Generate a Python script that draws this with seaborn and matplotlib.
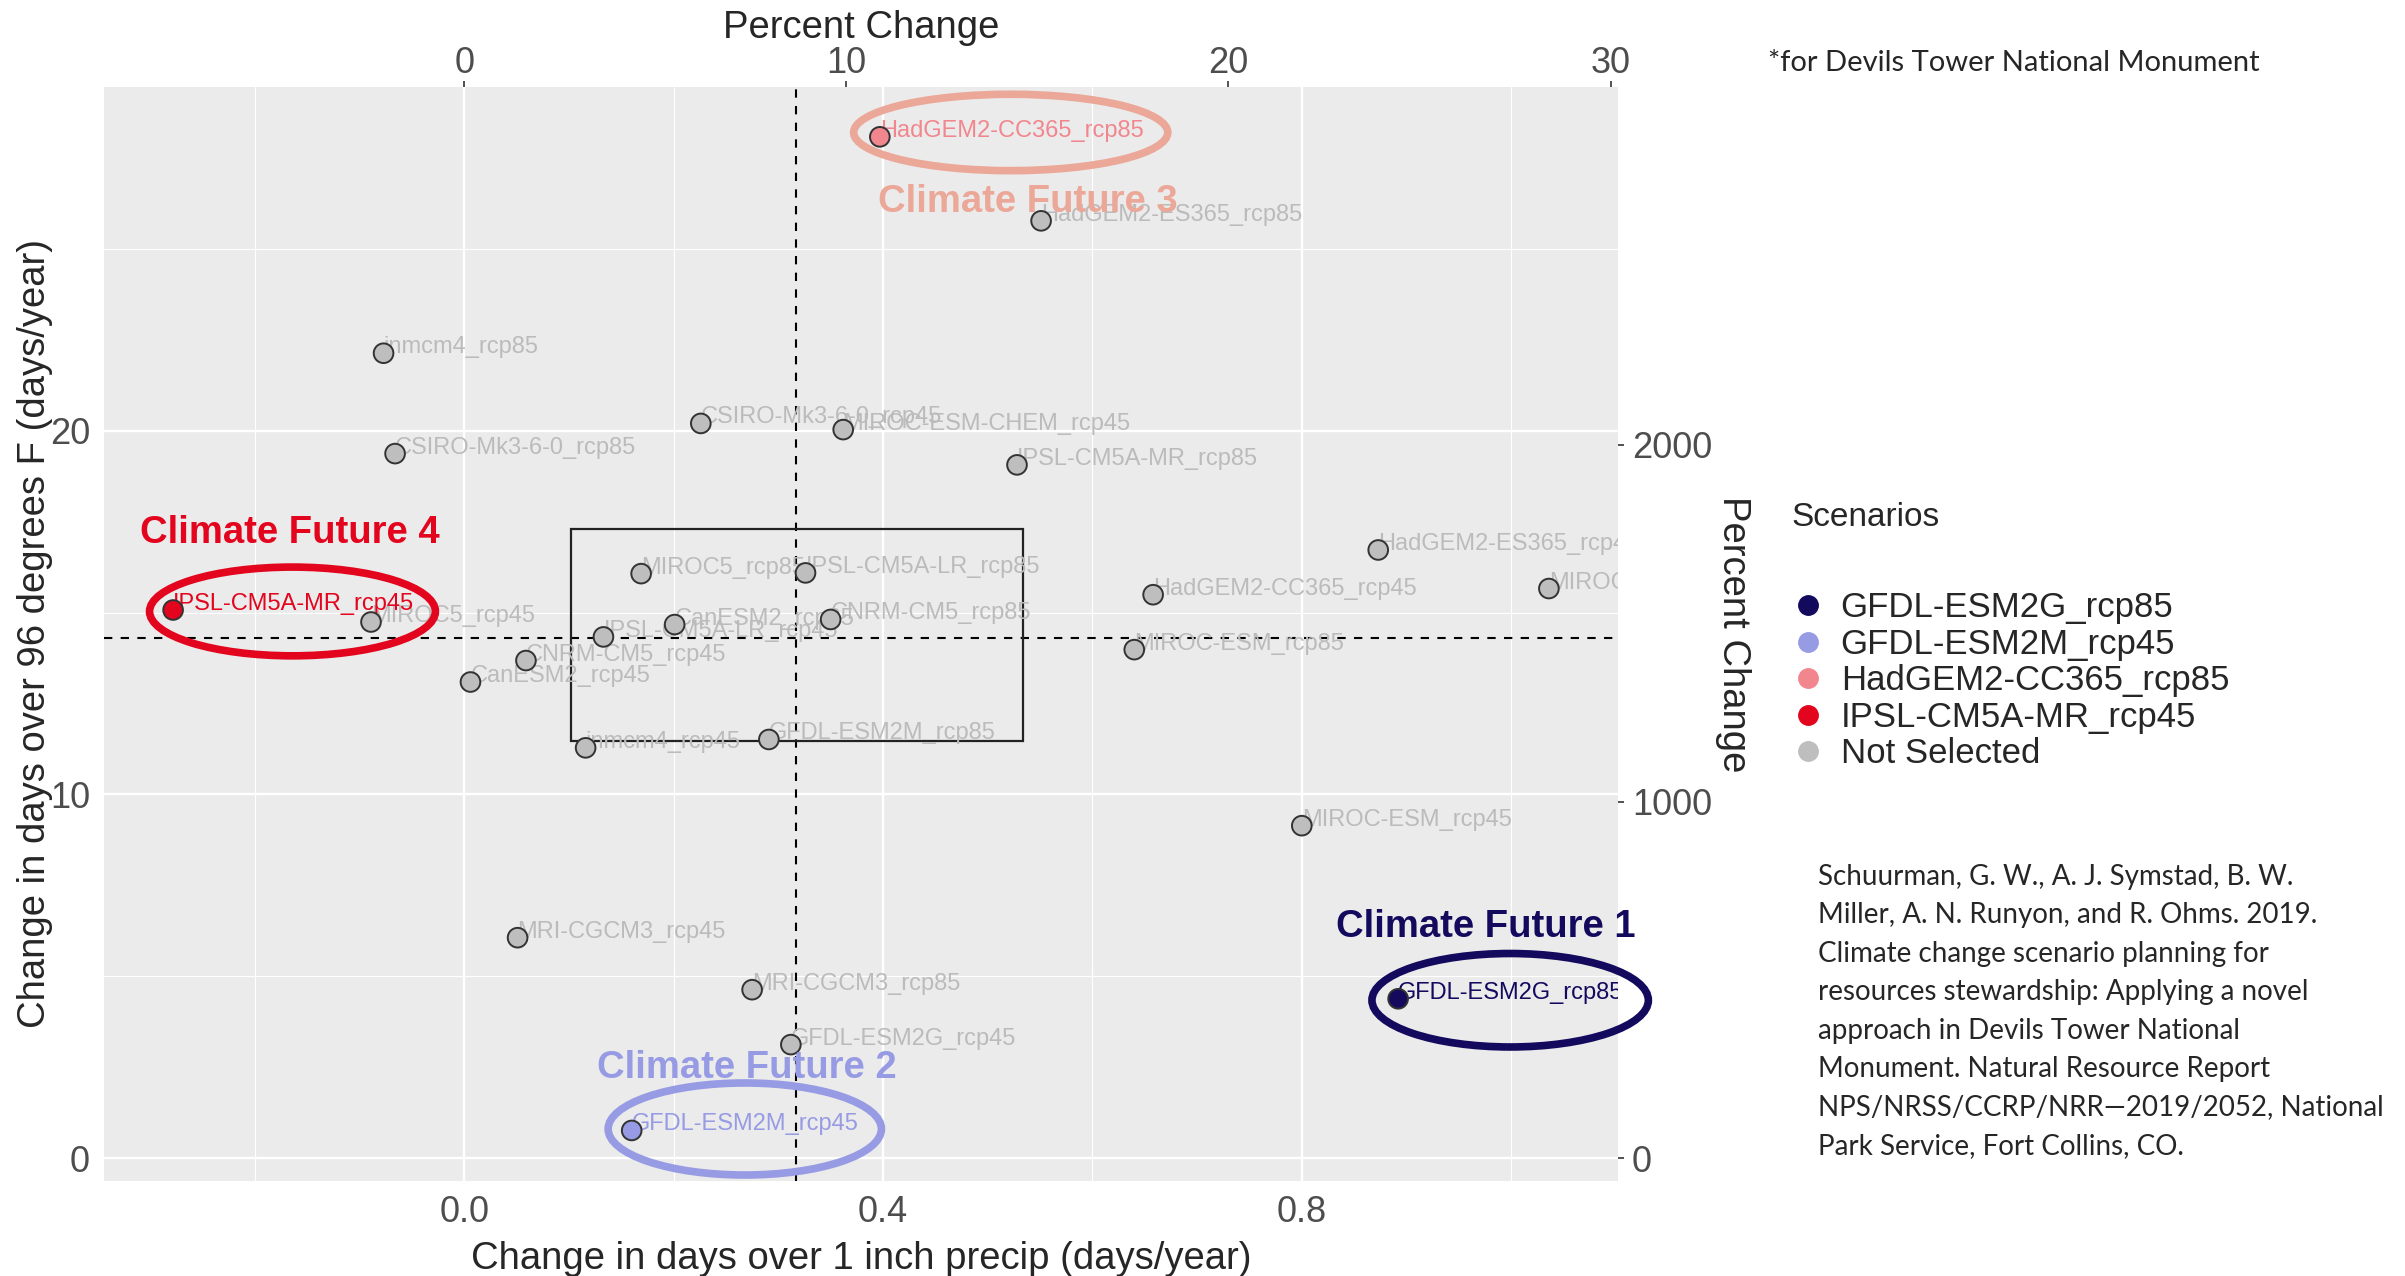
import matplotlib
matplotlib.use("Agg")
import matplotlib.pyplot as plt
from matplotlib.patches import Ellipse, Rectangle
from matplotlib.lines import Line2D
import pandas as pd
import seaborn as sns

# ---- data ----
models = ["HadGEM2-CC365_rcp85", "HadGEM2-ES365_rcp85", "inmcm4_rcp85",
          "CSIRO-Mk3-6-0_rcp45", "MIROC-ESM-CHEM_rcp45", "CSIRO-Mk3-6-0_rcp85",
          "IPSL-CM5A-MR_rcp85", "HadGEM2-ES365_rcp45", "MIROC-ESM-CHEM_rcp85",
          "MIROC5_rcp85", "IPSL-CM5A-LR_rcp85", "HadGEM2-CC365_rcp45",
          "IPSL-CM5A-MR_rcp45", "MIROC5_rcp45", "CanESM2_rcp85",
          "CNRM-CM5_rcp85", "IPSL-CM5A-LR_rcp45", "CNRM-CM5_rcp45",
          "MIROC-ESM_rcp85", "CanESM2_rcp45", "inmcm4_rcp45",
          "GFDL-ESM2M_rcp85", "MIROC-ESM_rcp45", "MRI-CGCM3_rcp45",
          "MRI-CGCM3_rcp85", "GFDL-ESM2G_rcp45", "GFDL-ESM2M_rcp45",
          "GFDL-ESM2G_rcp85"]
precip_days = [0.397, 0.551, -0.077, 0.226, 0.362, -0.066,
               0.528, 0.873, 1.036, 0.169, 0.326, 0.658,
               -0.278, -0.089, 0.201, 0.350, 0.133, 0.059,
               0.640, 0.006, 0.116, 0.291, 0.800, 0.051,
               0.275, 0.312, 0.160, 0.892]
heat_days = [28.08, 25.77, 22.13, 20.20, 20.03, 19.37,
             19.06, 16.72, 15.66, 16.07, 16.09, 15.49,
             15.07, 14.74, 14.67, 14.81, 14.33, 13.68,
             13.98, 13.09, 11.28, 11.51, 9.14, 6.06,
             4.63, 3.12, 0.76, 4.38]

selected = ["GFDL-ESM2G_rcp85", "GFDL-ESM2M_rcp45", "HadGEM2-CC365_rcp85", "IPSL-CM5A-MR_rcp45"]
sel_colors = ["#130a5e", "#979be4", "#f2868e", "#e2051d"]
not_sel_color = "#bebebe"

futures = ["Climate Future 1", "Climate Future 2", "Climate Future 3", "Climate Future 4"]
future_colors = ["#130a5e", "#979be4", "#eba797", "#e2051d"]
ell_x = [0.999, 0.268, 0.522, -0.164]
ell_y = [4.34, 0.80, 28.2, 15.03]
ell_w = [0.264, 0.261, 0.300, 0.273]
ell_h = [2.57, 2.53, 2.10, 2.44]
future_text_x = [0.976, 0.270, 0.538, -0.166]
future_text_y = [6.36, 2.48, 26.3, 17.18]

mean_x = 0.317
mean_y = 14.31
box_x = [0.102, 0.534]
box_y = [11.46, 17.31]

pct_x = 27.4    # percent per day (precip)
pct_y = 102.0   # percent per day (heat)

citation = ["Schuurman, G. W., A. J. Symstad, B. W.",
            "Miller, A. N. Runyon, and R. Ohms. 2019.",
            "Climate change scenario planning for",
            "resources stewardship: Applying a novel",
            "approach in Devils Tower National",
            "Monument. Natural Resource Report",
            "NPS/NRSS/CCRP/NRR\u20142019/2052, National",
            "Park Service, Fort Collins, CO."]

df = pd.DataFrame({"model": models, "x": precip_days, "y": heat_days})
df["scenario"] = [m if m in selected else "Not Selected" for m in models]
palette = dict(zip(selected, sel_colors))
palette["Not Selected"] = not_sel_color
df["order"] = [0 if s == "Not Selected" else 1 for s in df["scenario"]]
df = df.sort_values("order")

sns.set_theme(style="darkgrid")
plt.rcParams["font.family"] = ["Liberation Sans", "DejaVu Sans"]

fig = plt.figure(figsize=(24.05, 12.76), dpi=100)
ax = fig.add_axes([104 / 2405, 1 - 1181 / 1276, (1618 - 104) / 2405, (1181 - 87) / 1276])
ax.set_facecolor("#ebebeb")

sns.scatterplot(data=df, x="x", y="y", hue="scenario", palette=palette, s=200,
                edgecolor="#333333", linewidth=1.4, ax=ax, legend=False, zorder=4)

for _, r in df.iterrows():
    col = palette[r["scenario"]] if r["scenario"] != "Not Selected" else "#bbbbbb"
    ax.text(r["x"], r["y"], r["model"], fontsize=17, color=col,
            ha="left", va="baseline", clip_on=True, zorder=3)

ax.axvline(mean_x, color="black", ls=(0, (4, 4)), lw=1.5, zorder=2)
ax.axhline(mean_y, color="black", ls=(0, (4, 4)), lw=1.5, zorder=2)
ax.add_patch(Rectangle((box_x[0], box_y[0]), box_x[1] - box_x[0], box_y[1] - box_y[0],
                       fill=False, ec="#222222", lw=1.6, zorder=2))

for i in range(4):
    ax.add_patch(Ellipse((ell_x[i], ell_y[i]), ell_w[i], ell_h[i], fill=False,
                         ec=future_colors[i], lw=5.5, clip_on=False, zorder=5))
    ax.text(future_text_x[i], future_text_y[i], futures[i], fontsize=27.5, fontweight="bold",
            color=future_colors[i], ha="center", va="center", clip_on=False, zorder=6)

ax.set_xlim(-0.344, 1.102)
ax.set_ylim(-0.63, 29.45)
ax.set_xticks([0.0, 0.4, 0.8])
ax.set_xticklabels(["0.0", "0.4", "0.8"])
ax.set_xticks([-0.2, 0.2, 0.6, 1.0], minor=True)
ax.set_yticks([0, 10, 20])
ax.set_yticks([5, 15, 25], minor=True)
ax.grid(which="major", color="white", lw=1.7)
ax.grid(which="minor", color="white", lw=0.8)
ax.tick_params(which="major", length=4, width=1.2, color="#333333", labelsize=26,
               labelcolor="#4d4d4d", pad=6)
ax.tick_params(which="minor", length=0)
ax.set_xlabel("Change in days over 1 inch precip (days/year)", fontsize=27.5, labelpad=8)
ax.set_ylabel("Change in days over 96 degrees F (days/year)", fontsize=27.5, labelpad=-2)
for s in ax.spines.values():
    s.set_visible(False)

secx = ax.secondary_xaxis("top", functions=(lambda v: v * pct_x, lambda p: p / pct_x))
secx.set_xticks([0, 10, 20, 30])
secx.tick_params(length=4, width=1.2, color="#333333", labelsize=26, labelcolor="#4d4d4d", pad=0)
secx.set_xlabel("Percent Change", fontsize=27.5, labelpad=6)
secy = ax.secondary_yaxis("right", functions=(lambda v: v * pct_y, lambda p: p / pct_y))
secy.set_yticks([0, 1000, 2000])
secy.tick_params(length=4, width=1.2, color="#333333", labelsize=26, labelcolor="#4d4d4d", pad=6)
secy.set_ylabel("Percent Change", fontsize=27.5, rotation=-90, labelpad=28)
for a in (secx, secy):
    for s in a.spines.values():
        s.set_visible(False)

# legend
fig.text(1791 / 2405, 1 - 517 / 1276, "Scenarios", fontsize=24, ha="left", va="center")
handles = [Line2D([], [], marker="o", ls="", ms=14, mfc=c, mec=c) for c in sel_colors + [not_sel_color]]
fig.legend(handles, selected + ["Not Selected"], loc="upper left",
           bbox_to_anchor=(1773 / 2405, 1 - 574 / 1276), frameon=False, fontsize=25,
           handletextpad=0.45, labelspacing=0.1, handlelength=1.0, borderpad=0)

fig.text(1768 / 2405, 1 - 63 / 1276, "*for Devils Tower National Monument", fontsize=21,
         family=["Lato", "DejaVu Sans"], ha="left", va="center")
for i, line in enumerate(citation):
    fig.text(1818 / 2405, 1 - (877 + 38.4 * i) / 1276, line, fontsize=20,
             family=["Lato", "DejaVu Sans"], ha="left", va="center")

fig.savefig("out.png", dpi=100)
